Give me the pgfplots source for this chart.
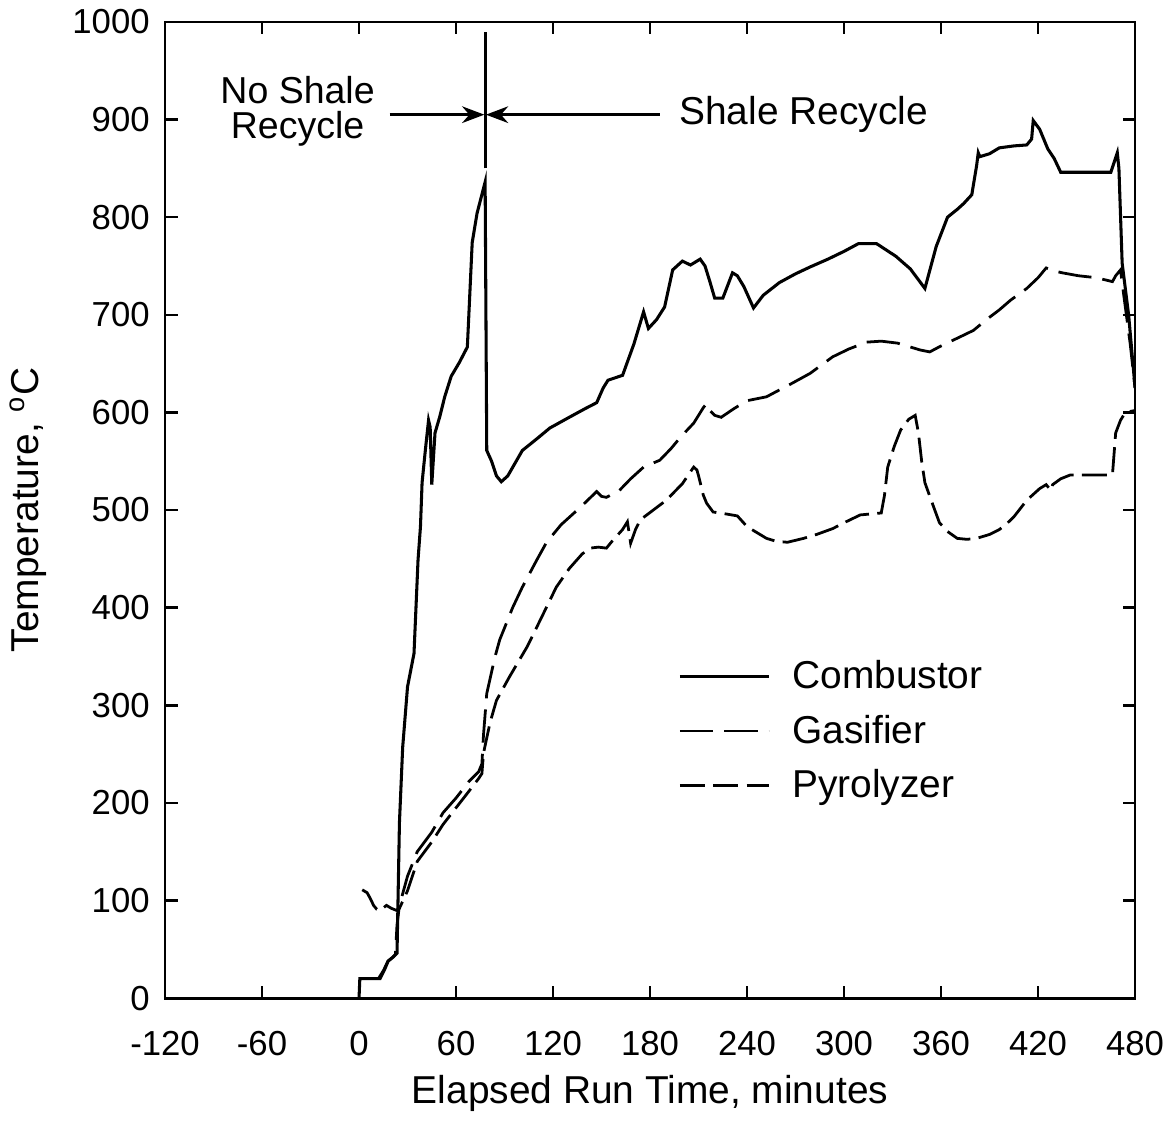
\documentclass[border=0pt]{standalone}
\usepackage{pgfplots}
\pgfplotsset{compat=1.18}
\usepackage{fontspec}
\setmainfont{Liberation Sans}
\usetikzlibrary{arrows.meta}
\begin{document}
\begin{tikzpicture}
\begin{axis}[
  scale only axis,
  width=349.2pt, height=351.4pt,
  xmin=-120, xmax=480, ymin=0, ymax=1000,
  xtick={-120,-60,0,60,120,180,240,300,360,420,480},
  xticklabels={-120,-60,0,60,120,180,240,300,360,420,480},
  ytick={0,100,200,300,400,500,600,700,800,900,1000},
  yticklabels={0,100,200,300,400,500,600,700,800,900,1000},
  /pgf/number format/assume math mode=true,
  /pgf/number format/1000 sep={},
  tick align=inside,
  major tick length=4.5pt,
  axis line style={line width=1pt},
  tick style={line width=0.9pt, black},
  ticklabel style={font=\fontsize{12.5}{15}\selectfont},
  xticklabel style={yshift=-8.5pt},
  yticklabel style={xshift=-2pt},
  xlabel={Elapsed Run Time, minutes},
  ylabel={Temperature, \textsuperscript{o}C},
  label style={font=\fontsize{14}{16}\selectfont},
  xlabel style={at={(axis description cs:0.5,-0.098)}, anchor=center},
  ylabel style={at={(axis description cs:-0.141,0.5)}, anchor=center},
  legend style={at={(axis cs:192,358)}, anchor=north west, draw=none, fill=none,
    font=\fontsize{14}{16}\selectfont, row sep=4pt, cells={anchor=west}},
  legend image code/.code={\draw[#1] (0pt,0pt) -- (32pt,0pt); \path[draw=none] (0pt,0pt) -- (38.5pt,0pt);},
]
\addplot[black, line width=1.1pt] coordinates {
(0,0) (0.5,20) (13,20) (16,30) (18,38) (21,42) (23.5,46) (24,90) (25,180) (27,257)
(30,319) (34,353) (36.5,449) (38,483) (39,528) (41,561) (43,592) (44,585) (45,526)
(47,579) (50,596) (53,616) (57,637) (62,651) (67,667) (70,774) (73,804) (78,836)
(79,561) (82,550) (85,535) (88,529) (92,535) (101,561) (110,573) (118,584) (130,595)
(140,604) (147,610) (151,625) (154,633) (163,638) (170,670) (176,703) (179,686)
(184,695) (189,708) (194,746) (200,755) (205,751) (211,757) (214,750) (217,734)
(220,717) (225,717) (228,730) (231,743) (234,740) (238,729) (244,707) (250,720)
(260,733) (270,742) (279,749) (290,757) (300,765) (309,773) (320,773) (332,760)
(341,747) (350,727) (357,770) (364,800) (370,808) (374,814) (379,823) (382,853)
(383,866) (384,862) (390,865) (396,871) (405,873) (413,874) (416,880) (417,899)
(421,890) (426,870) (430,860) (434,846) (465,846) (469,866) (470,850) (472,753)
(476,700) (480,625)
};
\addlegendentry{Combustor}
\addplot[black, line width=1pt, dash pattern=on 12pt off 4pt] coordinates {
(12,20) (15,28) (18,38) (21,42) (22.5,45) (23.5,75) (25,95) (30,125) (36,150)
(45,170) (52,190) (60,205) (68,222) (74,232) (76,240) (77,270) (79,312) (84,349)
(87,367) (95,400) (101,421) (110,449) (116,467) (125,485) (137,503) (147,519)
(150,514) (153,513) (161,520) (168,532) (176,544) (186,551) (193,563) (199,575)
(207,589) (213,605) (215,609) (217,602) (220,597) (224,595) (232,604) (240,612)
(252,616) (260,623) (268,630) (279,640) (293,657) (303,665) (314,672) (323,673)
(333,671) (341,667) (347,664) (353,662) (361,669) (370,676) (380,684) (388,695)
(396,705) (403,715) (413,727) (420,738) (425,748) (430,745) (435,743) (445,740)
(456,738) (466,734) (468,740) (471,746) (473,720) (477,670) (480,625)
};
\addlegendentry{Gasifier}
\addplot[black, line width=1pt, dash pattern=on 9pt off 3pt] coordinates {
(2,111) (5,108) (7,102) (9,95) (11,91) (13,90) (17,95) (20,92) (23,90) (25,92)
(30,110) (36,140) (45,160) (52,178) (60,195) (68,212) (74,225) (76,230) (77,251)
(81,282) (85,305) (93,329) (104,360) (112,387) (122,421) (130,440) (138,455)
(143,461) (148,462) (153,461) (157,469) (163,480) (166,488) (168,466) (171,480)
(174,490) (182,500) (190,510) (200,527) (207,544) (209,541) (210,535) (213,515)
(215,507) (219,498) (227,496) (234,494) (240,483) (246,477) (252,471) (258,468)
(265,467) (275,471) (283,475) (293,481) (300,487) (310,495) (323,497) (325,515)
(327,544) (331,565) (335,582) (340,593) (344,597) (346,579) (348,550) (350,528)
(355,505) (359,487) (364,478) (370,471) (376,470) (382,471) (390,475) (396,480)
(400,485) (405,493) (413,510) (421,522) (425,526) (428,520) (429,526) (434,532)
(440,536) (466,536) (468,579) (471,592) (474,600) (480,602)
};
\addlegendentry{Pyrolyzer}
\draw[line width=1pt] (axis cs:78,850) -- (axis cs:78,990);
\draw[line width=1pt, -{Stealth[length=8pt,width=6pt]}] (axis cs:19,905) -- (axis cs:77.5,905);
\draw[line width=1pt, -{Stealth[length=8pt,width=6pt]}] (axis cs:186,905) -- (axis cs:78.5,905);
\node[align=center, font=\fontsize{13.5}{12.6}\selectfont] at (axis cs:-38,908) {No Shale\\Recycle};
\node[anchor=west, font=\fontsize{14}{16}\selectfont] at (axis cs:192,905) {Shale Recycle};
\end{axis}
\pgfresetboundingbox
\path (-59.4pt,-47.5pt) rectangle (361.4pt,359.3pt);
\end{tikzpicture}
\end{document}
